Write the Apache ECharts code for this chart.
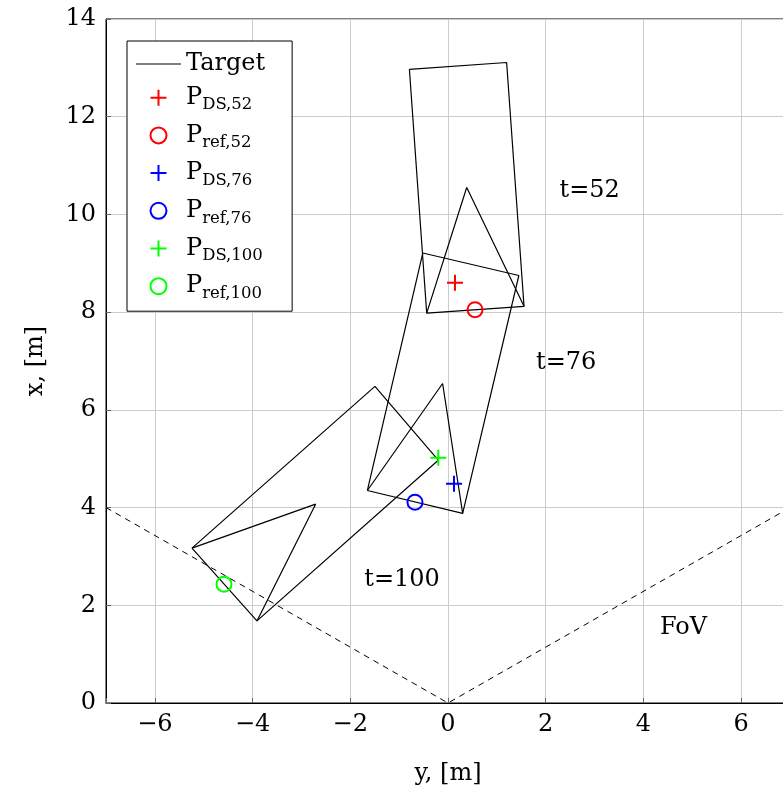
<!DOCTYPE html>
<html>
<head>
<meta charset="utf-8">
<script src="https://cdn.jsdelivr.net/npm/echarts@6/dist/echarts.min.js"></script>
<style>
  html, body { margin: 0; padding: 0; background: #fff; overflow: hidden; }
  #chart { width: 800px; height: 791px; }
</style>
</head>
<body>
<div id="chart"></div>
<script>
// Target outlines (y, x) in metres at three time steps: box + heading triangle
const rect52 = [[-0.79, 12.97], [1.20, 13.11], [1.556, 8.12], [-0.436, 7.98], [-0.79, 12.97]];
const tri52 = [[-0.436, 7.98], [0.383, 10.55], [1.556, 8.12]];
const rect76 = [[-1.65, 4.35], [-0.516, 9.21], [1.45, 8.75], [0.30, 3.88], [-1.65, 4.35]];
const tri76 = [[-1.65, 4.35], [-0.11, 6.54], [0.30, 3.88]];
const rect100 = [[-5.24, 3.17], [-1.495, 6.48], [-0.20, 4.97], [-3.91, 1.68], [-5.24, 3.17]];
const tri100 = [[-5.24, 3.17], [-2.71, 4.07], [-3.91, 1.68]];

// Estimated (DS) and reference points
const pDS52 = [[0.143, 8.60]];
const pRef52 = [[0.553, 8.05]];
const pDS76 = [[0.123, 4.49]];
const pRef76 = [[-0.676, 4.11]];
const pDS100 = [[-0.199, 5.02]];
const pRef100 = [[-4.585, 2.43]];

// Sensor field of view boundary
const fov = [[-7, 4.0], [0, 0], [7, 4.0]];

// Annotations
const notes = [
  { text: 't=52', pos: [2.90, 10.48] },
  { text: 't=76', pos: [2.42, 6.97] },
  { text: 't=100', pos: [-0.94, 2.53] },
  { text: 'FoV', pos: [4.82, 1.55] }
];

const legendNames = ['Target', 'P_DS,52', 'P_ref,52', 'P_DS,76', 'P_ref,76', 'P_DS,100', 'P_ref,100'];

const FONT = 'DejaVu Serif';
const plusPath = 'path://M0,7L16,7L16,9L0,9Z M7,0L9,0L9,16L7,16Z';
const linePath = 'path://M0,0L45,0L45,1.2L0,1.2Z';

function outline(data) {
  return {
    type: 'line', name: 'Target', data: data, symbol: 'none', silent: true,
    itemStyle: { color: '#000' },
    lineStyle: { color: '#000', width: 1.2 }, z: 2, animation: false
  };
}
function plus(name, data, color) {
  return {
    type: 'scatter', name: name, data: data, symbol: plusPath, symbolSize: 16,
    itemStyle: { color: color, opacity: 1 }, z: 5, animation: false
  };
}
function ring(name, data, color) {
  return {
    type: 'scatter', name: name, data: data, symbol: 'circle', symbolSize: 15,
    itemStyle: { color: 'rgba(0,0,0,0)', borderColor: color, borderWidth: 2, opacity: 1 },
    z: 5, animation: false
  };
}
const minus = v => String(v).replace('-', '\u2212');

const chart = echarts.init(document.getElementById('chart'), null, { renderer: 'canvas' });
chart.setOption({
  backgroundColor: '#fff',
  animation: false,
  grid: {
    left: 106, top: 19, width: 684, height: 685,
    show: true, borderColor: '#000', borderWidth: 1, backgroundColor: 'transparent'
  },
  xAxis: {
    type: 'value', min: -7, max: 7, splitNumber: 7,
    name: 'y, [m]', nameLocation: 'middle', nameGap: 59,
    nameTextStyle: { fontFamily: FONT, fontSize: 24, color: '#000' },
    axisLine: { show: true, onZero: false, lineStyle: { color: '#000', width: 1 } },
    axisTick: { show: true, inside: true, length: 5, lineStyle: { color: '#666' } },
    axisLabel: {
      fontFamily: FONT, fontSize: 24, color: '#000', margin: 10,
      formatter: v => (Math.abs(v) % 2 === 1 ? '' : minus(v))
    },
    splitLine: { show: true, lineStyle: { color: '#cccccc', width: 1 } }
  },
  yAxis: {
    type: 'value', min: 0, max: 14, interval: 2,
    name: 'x, [m]', nameLocation: 'middle', nameGap: 58,
    nameTextStyle: { fontFamily: FONT, fontSize: 24, color: '#000' },
    axisLine: { show: true, onZero: false, lineStyle: { color: '#000', width: 1 } },
    axisTick: { show: true, inside: true, length: 5, lineStyle: { color: '#666' } },
    axisLabel: { fontFamily: FONT, fontSize: 24, color: '#000', margin: 10 },
    splitLine: { show: true, lineStyle: { color: '#cccccc', width: 1 } }
  },
  legend: {
    data: legendNames.map(n => n === 'Target'
      ? { name: n, icon: linePath, itemStyle: { color: '#000' } }
      : { name: n }),
    orient: 'vertical', left: 127, top: 41,
    backgroundColor: '#fff', borderColor: '#000', borderWidth: 1,
    padding: [11, 27, 9, 9], itemGap: 9.7, itemWidth: 45, itemHeight: 16,
    selectedMode: false, z: 10,
    textStyle: {
      color: '#000', fontFamily: FONT,
      rich: {
        a: { fontFamily: FONT, fontSize: 24, lineHeight: 32, color: '#000' },
        b: { fontFamily: FONT, fontSize: 16.5, lineHeight: 16, verticalAlign: 'bottom', color: '#000' }
      }
    },
    formatter: name => {
      if (name.indexOf('_') < 0) return '{a|' + name + '}';
      const parts = name.split('_');
      return '{a|' + parts[0] + '}{b|' + parts[1] + '}';
    }
  },
  series: [
    outline(rect52), outline(tri52),
    outline(rect76), outline(tri76),
    outline(rect100), outline(tri100),
    {
      type: 'line', name: 'FoV', data: fov, symbol: 'none', silent: true,
      lineStyle: { color: '#000', width: 1, type: [6, 5] }, z: 2
    },
    plus('P_DS,52', pDS52, '#ff0000'),
    ring('P_ref,52', pRef52, '#ff0000'),
    plus('P_DS,76', pDS76, '#0000ff'),
    ring('P_ref,76', pRef76, '#0000ff'),
    plus('P_DS,100', pDS100, '#00ff00'),
    ring('P_ref,100', pRef100, '#00ff00'),
    {
      type: 'scatter', name: 'notes', symbolSize: 0, silent: true,
      itemStyle: { opacity: 1 },
      data: notes.map(n => ({ value: n.pos, name: n.text })),
      label: {
        show: true, position: 'inside', formatter: p => p.name,
        fontFamily: FONT, fontSize: 24, color: '#000', opacity: 1
      }
    }
  ]
});
</script>
</body>
</html>
